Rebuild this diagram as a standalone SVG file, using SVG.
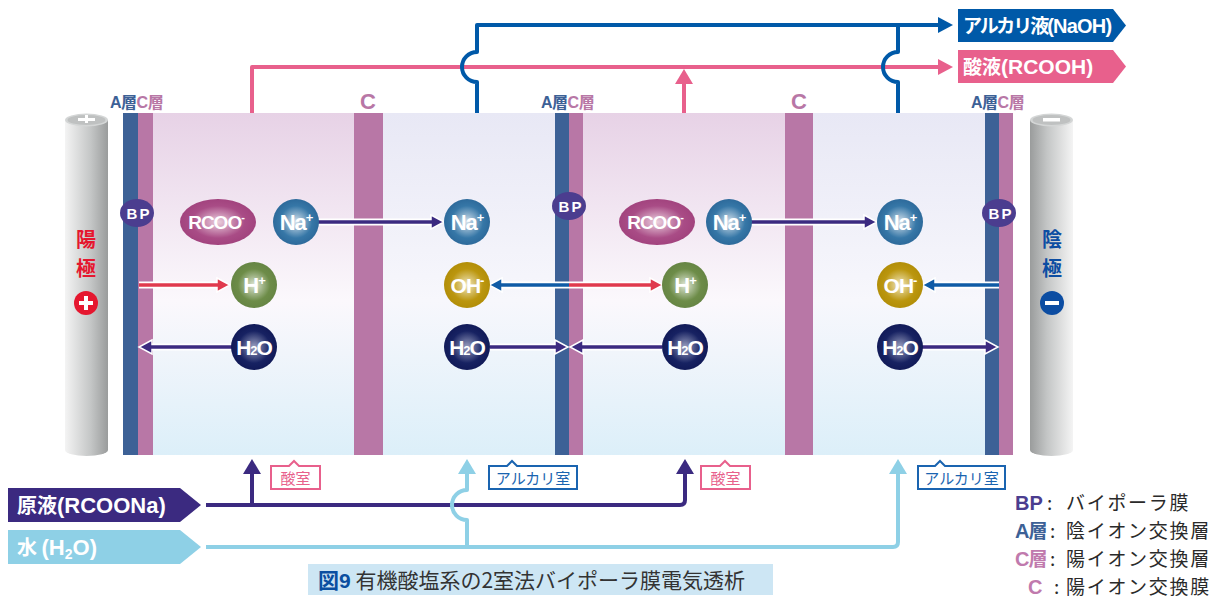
<svg xmlns="http://www.w3.org/2000/svg" width="1230" height="600" viewBox="0 0 1230 600">
  <style>
    .jp { font-family: "Noto Sans CJK JP", "Liberation Sans", sans-serif; }
    .lat { font-family: "Liberation Sans", "Noto Sans CJK JP", sans-serif; font-weight: bold; }
    .ion { font-family: "Liberation Sans", sans-serif; font-weight: bold; fill: #fff; text-anchor: middle; letter-spacing: -1px; }
    .layA { fill: #3d6196; }
    .layC { fill: #b877a6; }
    .pipe { fill: none; stroke-width: 4; stroke-linejoin: round; }
    .halo { fill: none; stroke: #fff; stroke-width: 7; }
    .lbl { fill: #fff; stroke-width: 2; }
  </style>
  <defs>
    <linearGradient id="acid" x1="0" y1="0" x2="0" y2="1">
      <stop offset="0" stop-color="#e7d2e6"/>
      <stop offset="0.55" stop-color="#fbf8fc"/>
      <stop offset="1" stop-color="#dceff9"/>
    </linearGradient>
    <linearGradient id="alk" x1="0" y1="0" x2="0" y2="1">
      <stop offset="0" stop-color="#e8e8f5"/>
      <stop offset="0.55" stop-color="#f7f7fc"/>
      <stop offset="1" stop-color="#dceff9"/>
    </linearGradient>
    <linearGradient id="elecL" x1="0" y1="0" x2="1" y2="0">
      <stop offset="0" stop-color="#f4f4f4"/>
      <stop offset="0.6" stop-color="#c4c6c6"/>
      <stop offset="1" stop-color="#9a9c9c"/>
    </linearGradient>
    <linearGradient id="elecR" x1="0" y1="0" x2="1" y2="0">
      <stop offset="0" stop-color="#9a9c9c"/>
      <stop offset="0.4" stop-color="#c4c6c6"/>
      <stop offset="1" stop-color="#f4f4f4"/>
    </linearGradient>
    <radialGradient id="gNa" cx="0.5" cy="0.5" r="0.5">
      <stop offset="0" stop-color="#d6e2ec"/>
      <stop offset="0.7" stop-color="#3677a7"/>
      <stop offset="1" stop-color="#2d6a9b"/>
    </radialGradient>
    <radialGradient id="gRc" cx="0.5" cy="0.5" r="0.5">
      <stop offset="0" stop-color="#ebd0de"/>
      <stop offset="0.7" stop-color="#a94c86"/>
      <stop offset="1" stop-color="#a2437e"/>
    </radialGradient>
    <radialGradient id="gH" cx="0.5" cy="0.5" r="0.5">
      <stop offset="0" stop-color="#dfe6d6"/>
      <stop offset="0.7" stop-color="#6d8c48"/>
      <stop offset="1" stop-color="#668544"/>
    </radialGradient>
    <radialGradient id="gOH" cx="0.5" cy="0.5" r="0.5">
      <stop offset="0" stop-color="#f1e8c2"/>
      <stop offset="0.7" stop-color="#bb960e"/>
      <stop offset="1" stop-color="#b28e08"/>
    </radialGradient>
    <radialGradient id="gW" cx="0.5" cy="0.5" r="0.5">
      <stop offset="0" stop-color="#9a9fbf"/>
      <stop offset="0.7" stop-color="#172262"/>
      <stop offset="1" stop-color="#111a58"/>
    </radialGradient>
  </defs>

  <!-- chambers -->
  <g id="chambers">
    <rect x="153" y="113" width="201" height="342" fill="url(#acid)"/>
    <rect x="383" y="113" width="172" height="342" fill="url(#alk)"/>
    <rect x="583" y="113" width="202" height="342" fill="url(#acid)"/>
    <rect x="813" y="113" width="172" height="342" fill="url(#alk)"/>
  </g>

  <!-- membranes -->
  <g id="membranes">
    <rect class="layA" x="123" y="113" width="15" height="342"/>
    <rect class="layC" x="138" y="113" width="15" height="342"/>
    <rect class="layC" x="354" y="113" width="29" height="342"/>
    <rect class="layA" x="555" y="113" width="14" height="342"/>
    <rect class="layC" x="569" y="113" width="14" height="342"/>
    <rect class="layC" x="785" y="113" width="28" height="342"/>
    <rect class="layA" x="985" y="113" width="14" height="342"/>
    <rect class="layC" x="999" y="113" width="14" height="342"/>
  </g>

  <!-- membrane labels -->
  <g id="membrane-labels" class="lat" font-size="16" letter-spacing="-0.5">
    <text x="110" y="108"><tspan fill="#3d6196">A</tspan><tspan class="jp" fill="#3d6196" font-weight="bold">層</tspan><tspan fill="#b877a6">C</tspan><tspan class="jp" fill="#b877a6" font-weight="bold">層</tspan></text>
    <text x="541" y="108"><tspan fill="#3d6196">A</tspan><tspan class="jp" fill="#3d6196" font-weight="bold">層</tspan><tspan fill="#b877a6">C</tspan><tspan class="jp" fill="#b877a6" font-weight="bold">層</tspan></text>
    <text x="971" y="108"><tspan fill="#3d6196">A</tspan><tspan class="jp" fill="#3d6196" font-weight="bold">層</tspan><tspan fill="#b877a6">C</tspan><tspan class="jp" fill="#b877a6" font-weight="bold">層</tspan></text>
    <text x="368" y="109" font-size="22" fill="#b877a6" text-anchor="middle" letter-spacing="0">C</text>
    <text x="799" y="109" font-size="22" fill="#b877a6" text-anchor="middle" letter-spacing="0">C</text>
  </g>

  <!-- anode -->
  <g id="anode">
    <path d="M65,120 V450 A21.5,6 0 0 0 108,450 V120 Z" fill="url(#elecL)"/>
    <ellipse cx="86.5" cy="120" rx="21.5" ry="6.5" fill="#d4d6d6"/>
    <ellipse cx="86.5" cy="120" rx="19" ry="5" fill="#bfc1c1"/>
    <rect x="78" y="118" width="17" height="3" fill="#fff"/>
    <rect x="85" y="115" width="3" height="8" fill="#fff"/>
    <text class="jp" x="86" y="247" font-size="20" font-weight="bold" fill="#e5172f" text-anchor="middle">陽</text>
    <text class="jp" x="86" y="276" font-size="20" font-weight="bold" fill="#e5172f" text-anchor="middle">極</text>
    <circle cx="86" cy="303" r="12" fill="#e5172f"/>
    <rect x="79" y="301" width="14" height="4" fill="#fff"/>
    <rect x="84" y="296" width="4" height="14" fill="#fff"/>
  </g>

  <!-- cathode -->
  <g id="cathode">
    <path d="M1030,120 V450 A21.5,6 0 0 0 1073,450 V120 Z" fill="url(#elecR)"/>
    <ellipse cx="1051.5" cy="120" rx="21.5" ry="6.5" fill="#d4d6d6"/>
    <ellipse cx="1051.5" cy="120" rx="19" ry="5" fill="#bfc1c1"/>
    <rect x="1043" y="118" width="17" height="3.5" fill="#fff"/>
    <text class="jp" x="1052" y="247" font-size="20" font-weight="bold" fill="#0c4da2" text-anchor="middle">陰</text>
    <text class="jp" x="1052" y="276" font-size="20" font-weight="bold" fill="#0c4da2" text-anchor="middle">極</text>
    <circle cx="1052" cy="303" r="12" fill="#0c4da2"/>
    <rect x="1045" y="301" width="14" height="4" fill="#fff"/>
  </g>

  <!-- connectors -->
  <g id="connectors">
    <!-- top outlets -->
    <path class="pipe" stroke="#e8608c" d="M252,113 V67 H940"/>
    <polygon points="938,59 953,67 938,75" fill="#e8608c"/>
    <path class="pipe" stroke="#e8608c" d="M684,113 V82"/>
    <polygon points="675,84 684,69 693,84" fill="#e8608c"/>
    <path class="pipe" stroke="#0059a8" d="M477,113 V82 A15,15 0 0 1 477,52 V25 H940"/>
    <polygon points="938,17 953,25 938,33" fill="#0059a8"/>
    <path class="pipe" stroke="#0059a8" d="M898,113 V82 A15,15 0 0 1 898,52 V25"/>

    <!-- bottom inlets -->
    <path class="pipe" stroke="#3b2a80" d="M206,505 H680 Q685,505 685,500 V472"/>
    <polygon points="676,474 685,459 694,474" fill="#3b2a80"/>
    <path class="pipe" stroke="#3b2a80" d="M252,505 V472"/>
    <polygon points="243,474 252,459 261,474" fill="#3b2a80"/>
    <path class="pipe" stroke="#8ed0e6" d="M206,547 H893 Q898,547 898,542 V472"/>
    <polygon points="889,474 898,459 907,474" fill="#8ed0e6"/>
    <path class="pipe" stroke="#8ed0e6" d="M467,547 V520 A15,15 0 0 1 467,490 V472"/>
    <polygon points="458,474 467,459 476,474" fill="#8ed0e6"/>

    <!-- ion transport: halos -->
    <g class="halo">
      <path d="M318,222 H433"/>
      <path d="M751,222 H866"/>
      <path d="M139,285 H220"/>
      <path d="M499,285 H654"/>
      <path d="M930,285 H999"/>
      <path d="M149,347 H232"/>
      <path d="M490,347 H558"/>
      <path d="M580,347 H662"/>
      <path d="M922,347 H988"/>
    </g>
    <g stroke="#fff" stroke-width="1.5" stroke-linejoin="miter">
      <polygon points="431,215 444,222 431,229" fill="#3b2a80"/>
      <polygon points="864,215 877,222 864,229" fill="#3b2a80"/>
      <polygon points="217,278 230,285 217,292" fill="#e03a4e"/>
      <polygon points="502,278 489,285 502,292" fill="#0f5ba6"/>
      <polygon points="650,278 663,285 650,292" fill="#e03a4e"/>
      <polygon points="935,278 922,285 935,292" fill="#0f5ba6"/>
      <polygon points="152,340 139,347 152,354" fill="#3b2a80"/>
      <polygon points="555,340 568,347 555,354" fill="#3b2a80"/>
      <polygon points="583,340 570,347 583,354" fill="#3b2a80"/>
      <polygon points="985,340 998,347 985,354" fill="#3b2a80"/>
    </g>
    <g fill="none" stroke-width="3.5">
      <path d="M318,222 H433" stroke="#3b2a80"/>
      <path d="M751,222 H866" stroke="#3b2a80"/>
      <path d="M139,285 H219" stroke="#e03a4e"/>
      <path d="M500,285 H569" stroke="#0f5ba6"/>
      <path d="M569,285 H652" stroke="#e03a4e"/>
      <path d="M933,285 H999" stroke="#0f5ba6"/>
      <path d="M150,347 H232" stroke="#3b2a80"/>
      <path d="M490,347 H557" stroke="#3b2a80"/>
      <path d="M581,347 H662" stroke="#3b2a80"/>
      <path d="M922,347 H987" stroke="#3b2a80"/>
    </g>
  </g>

  <!-- bipolar membrane tags -->
  <g id="bp-tags" class="lat" font-size="15" fill="#fff" text-anchor="middle" letter-spacing="2">
    <ellipse cx="137" cy="213" rx="17" ry="14" fill="#4b3d8f"/>
    <text x="139" y="218.5">BP</text>
    <ellipse cx="569" cy="206" rx="17" ry="14" fill="#4b3d8f"/>
    <text x="571" y="211.5">BP</text>
    <ellipse cx="999" cy="213" rx="17" ry="14" fill="#4b3d8f"/>
    <text x="1001" y="218.5">BP</text>
  </g>

  <!-- ions -->
  <g id="ions-acid-1">
    <ellipse cx="218" cy="222" rx="38" ry="23" fill="url(#gRc)"/>
    <text class="ion" x="216" y="229" font-size="19">RCOO<tspan font-size="11" dy="-8">-</tspan></text>
    <circle cx="296" cy="222" r="23" fill="url(#gNa)"/>
    <text class="ion" x="296" y="230" font-size="22">Na<tspan font-size="13" dy="-8">+</tspan></text>
    <circle cx="254" cy="285" r="23" fill="url(#gH)"/>
    <text class="ion" x="254" y="293" font-size="22">H<tspan font-size="13" dy="-8">+</tspan></text>
    <circle cx="254" cy="347" r="23" fill="url(#gW)"/>
    <text class="ion" x="254" y="355" font-size="21">H<tspan font-size="13">2</tspan>O</text>
  </g>
  <g id="ions-alkali-1">
    <circle cx="467" cy="222" r="23" fill="url(#gNa)"/>
    <text class="ion" x="467" y="230" font-size="22">Na<tspan font-size="13" dy="-8">+</tspan></text>
    <circle cx="467" cy="285" r="23" fill="url(#gOH)"/>
    <text class="ion" x="467" y="293" font-size="21">OH<tspan font-size="13" dy="-8">-</tspan></text>
    <circle cx="467" cy="347" r="23" fill="url(#gW)"/>
    <text class="ion" x="467" y="355" font-size="21">H<tspan font-size="13">2</tspan>O</text>
  </g>
  <g id="ions-acid-2">
    <ellipse cx="657" cy="222" rx="38" ry="23" fill="url(#gRc)"/>
    <text class="ion" x="655" y="229" font-size="19">RCOO<tspan font-size="11" dy="-8">-</tspan></text>
    <circle cx="729" cy="222" r="23" fill="url(#gNa)"/>
    <text class="ion" x="729" y="230" font-size="22">Na<tspan font-size="13" dy="-8">+</tspan></text>
    <circle cx="685" cy="285" r="23" fill="url(#gH)"/>
    <text class="ion" x="685" y="293" font-size="22">H<tspan font-size="13" dy="-8">+</tspan></text>
    <circle cx="685" cy="347" r="23" fill="url(#gW)"/>
    <text class="ion" x="685" y="355" font-size="21">H<tspan font-size="13">2</tspan>O</text>
  </g>
  <g id="ions-alkali-2">
    <circle cx="900" cy="222" r="23" fill="url(#gNa)"/>
    <text class="ion" x="900" y="230" font-size="22">Na<tspan font-size="13" dy="-8">+</tspan></text>
    <circle cx="900" cy="285" r="23" fill="url(#gOH)"/>
    <text class="ion" x="900" y="293" font-size="21">OH<tspan font-size="13" dy="-8">-</tspan></text>
    <circle cx="900" cy="347" r="23" fill="url(#gW)"/>
    <text class="ion" x="900" y="355" font-size="21">H<tspan font-size="13">2</tspan>O</text>
  </g>

  <!-- outlet tags -->
  <g id="out-naoh">
    <polygon points="958,9 1113,9 1126,25.5 1113,42 958,42" fill="#0059a8"/>
    <text class="jp" x="963" y="33" font-size="19" font-weight="bold" fill="#fff" letter-spacing="-2">アルカリ液<tspan class="lat" font-size="20" letter-spacing="-0.8">(NaOH)</tspan></text>
  </g>
  <g id="out-rcooh">
    <polygon points="958,50 1113,50 1126,66.5 1113,83 958,83" fill="#e8608c"/>
    <text class="jp" x="963" y="74" font-size="19" font-weight="bold" fill="#fff">酸液<tspan class="lat" font-size="21">(RCOOH)</tspan></text>
  </g>

  <!-- inlet tags -->
  <g id="in-rcoona">
    <polygon points="8,488 180,488 201,505 180,522 8,522" fill="#3b2a80"/>
    <text class="jp" x="17" y="513" font-size="20" font-weight="bold" fill="#fff">原液<tspan class="lat" font-size="22">(RCOONa)</tspan></text>
  </g>
  <g id="in-water">
    <polygon points="8,530 180,530 201,547 180,564 8,564" fill="#8ed0e6"/>
    <text class="jp" x="17" y="555" font-size="20" font-weight="bold" fill="#fff">水 <tspan class="lat" font-size="22">(H<tspan font-size="14" dy="4">2</tspan><tspan dy="-4">O)</tspan></tspan></text>
  </g>

  <!-- chamber tags -->
  <g id="tag-acid-1">
    <path class="lbl" stroke="#e8608c" d="M271,466 H289 L294,461 L299,466 H320 V489 H271 Z"/>
    <text class="jp" x="295.5" y="484" font-size="15" fill="#e8608c" text-anchor="middle">酸室</text>
  </g>
  <g id="tag-alkali-1">
    <path class="lbl" stroke="#1a64b0" d="M489,466 H507 L512,461 L517,466 H577 V489 H489 Z"/>
    <text class="jp" x="533" y="484" font-size="15" fill="#1a64b0" text-anchor="middle">アルカリ室</text>
  </g>
  <g id="tag-acid-2">
    <path class="lbl" stroke="#e8608c" d="M701,466 H720 L725,461 L730,466 H750 V489 H701 Z"/>
    <text class="jp" x="725.5" y="484" font-size="15" fill="#e8608c" text-anchor="middle">酸室</text>
  </g>
  <g id="tag-alkali-2">
    <path class="lbl" stroke="#1a64b0" d="M918,466 H935 L940,461 L945,466 H1005 V489 H918 Z"/>
    <text class="jp" x="961.5" y="484" font-size="15" fill="#1a64b0" text-anchor="middle">アルカリ室</text>
  </g>

  <!-- caption -->
  <g id="caption">
    <rect x="308" y="564" width="465" height="31" fill="#cde6f4"/>
    <text class="jp" x="318" y="588" font-size="21" fill="#333"><tspan font-weight="bold" fill="#0a4fa0">図<tspan class="lat">9</tspan></tspan> 有機酸塩系の2室法バイポーラ膜電気透析</text>
  </g>

  <!-- legend -->
  <g id="legend" class="jp" font-size="19" fill="#2a2a2a" letter-spacing="1.7">
    <text x="1015" y="510" class="lat" font-size="20" fill="#4b3d8f" letter-spacing="0">BP</text>
    <text x="1047" y="510">:</text>
    <text x="1066" y="510">バイポーラ膜</text>
    <text x="1015" y="538" font-size="19" font-weight="bold" fill="#3d6196" letter-spacing="-1"><tspan class="lat" font-size="20">A</tspan>層</text>
    <text x="1050" y="538">:</text>
    <text x="1066" y="538">陰イオン交換層</text>
    <text x="1015" y="566" font-size="19" font-weight="bold" fill="#c07aad" letter-spacing="-1"><tspan class="lat" font-size="20">C</tspan>層</text>
    <text x="1050" y="566">:</text>
    <text x="1066" y="566">陽イオン交換層</text>
    <text x="1028" y="594" class="lat" font-size="20" fill="#c07aad" letter-spacing="0">C</text>
    <text x="1054" y="594">:</text>
    <text x="1066" y="594">陽イオン交換膜</text>
  </g>
</svg>
